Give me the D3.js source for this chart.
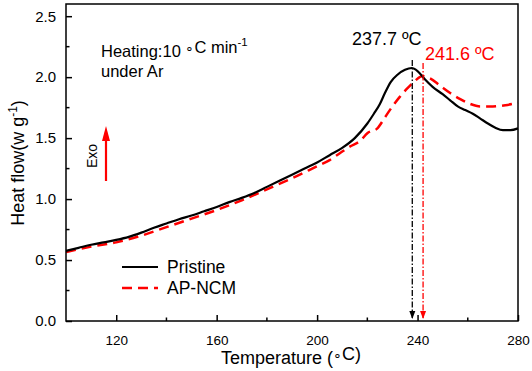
<!DOCTYPE html>
<html>
<head>
<meta charset="utf-8">
<script src="https://cdn.jsdelivr.net/npm/d3@7"></script>
<style>
  body { margin: 0; background: #fff; }
  svg { font-family: "Liberation Sans", Arial, sans-serif; }
</style>
</head>
<body>
<svg id="chart" width="532" height="371"></svg>
<script>
// DSC curves

const pristineT = [100, 105, 110, 115, 120, 125, 130, 135, 140, 145, 150, 155, 160, 165, 170, 175, 180, 185, 190, 195, 200, 205, 210, 215, 220, 222.6, 225, 227, 229.3, 232, 235, 237.7, 240, 243, 246, 250, 253, 256, 259, 262, 265, 268, 271, 274, 277, 280];
const pristineQ = [0.575, 0.60, 0.625, 0.645, 0.665, 0.69, 0.725, 0.765, 0.80, 0.835, 0.865, 0.90, 0.935, 0.975, 1.01, 1.05, 1.10, 1.15, 1.20, 1.25, 1.30, 1.36, 1.42, 1.50, 1.62, 1.70, 1.78, 1.87, 1.96, 2.02, 2.06, 2.075, 2.05, 1.98, 1.92, 1.86, 1.81, 1.76, 1.73, 1.70, 1.66, 1.62, 1.585, 1.565, 1.565, 1.58];

const apT = [100, 110, 120, 130, 140, 150, 160, 170, 180, 190, 200, 205, 209.3, 213, 217.3, 220, 224, 227, 230, 233, 236, 239, 242, 245, 249, 253, 257, 261, 265, 270, 275, 280];
const apQ = [0.565, 0.61, 0.645, 0.70, 0.77, 0.84, 0.91, 0.99, 1.08, 1.17, 1.27, 1.32, 1.38, 1.43, 1.48, 1.54, 1.58, 1.67, 1.76, 1.84, 1.91, 1.97, 2.01, 1.99, 1.93, 1.87, 1.82, 1.78, 1.76, 1.76, 1.77, 1.79];

const xTicks = [120, 160, 200, 240, 280];
const xMinor = [140, 180, 220, 260];
const yTicks = [0.0, 0.5, 1.0, 1.5, 2.0, 2.5];
const yMinor = [0.25, 0.75, 1.25, 1.75, 2.25];

const peakTemps = [237.9, 242.2];
const peakLabels = ['237.7 ºC', '241.6 ºC'];
const seriesNames = ['Pristine', 'AP-NCM'];

const svg = d3.select('#chart');
const margin = { left: 66, top: 4, right: 14, bottom: 50 };
const W = 532, H = 371;

const x = d3.scaleLinear().domain([100, 280]).range([margin.left, W - margin.right]);
const y = d3.scaleLinear().domain([0, 2.6]).range([H - margin.bottom, margin.top]);

const plot = svg.append('g');

// curves
const line = d3.line()
  .x(d => x(d[0]))
  .y(d => y(d[1]))
  .curve(d3.curveMonotoneX);

plot.append('path')
  .datum(d3.zip(apT, apQ))
  .attr('d', line)
  .attr('fill', 'none')
  .attr('stroke', '#ff0000')
  .attr('stroke-width', 2.5)
  .attr('stroke-dasharray', '10,6');

plot.append('path')
  .datum(d3.zip(pristineT, pristineQ))
  .attr('d', line)
  .attr('fill', 'none')
  .attr('stroke', '#000')
  .attr('stroke-width', 2.2);

// peak markers
const peakColors = ['#000', '#ff0000'];
const peakTop = [60, 63];
peakTemps.forEach((t, i) => {
  plot.append('line')
    .attr('x1', x(t)).attr('x2', x(t))
    .attr('y1', peakTop[i]).attr('y2', y(0) - 3)
    .attr('stroke', peakColors[i])
    .attr('stroke-width', 1.3)
    .attr('stroke-dasharray', '6,2,1.5,2');
  plot.append('path')
    .attr('d', `M${x(t) - 3},${y(0) - 10} L${x(t) + 3},${y(0) - 10} L${x(t)},${y(0) - 2} Z`)
    .attr('fill', peakColors[i]);
});

svg.append('text')
  .attr('x', 352).attr('y', 45)
  .attr('font-size', 18)
  .text(peakLabels[0]);

svg.append('text')
  .attr('x', 425).attr('y', 60)
  .attr('font-size', 18)
  .attr('fill', '#ff0000')
  .text(peakLabels[1]);

// axes
svg.append('rect')
  .attr('x', x(100)).attr('y', y(2.6))
  .attr('width', x(280) - x(100)).attr('height', y(0) - y(2.6))
  .attr('fill', 'none')
  .attr('stroke', '#000')
  .attr('stroke-width', 1.5);

const xAxis = svg.append('g')
  .attr('transform', `translate(0,${y(0)})`)
  .call(d3.axisBottom(x).tickValues(xTicks).tickSizeInner(-6).tickSizeOuter(0).tickPadding(14));
xAxis.select('.domain').remove();
xAxis.selectAll('text').attr('font-size', 13.5).attr('font-family', '"Liberation Sans", Arial, sans-serif');
xAxis.selectAll('line').attr('stroke-width', 1.5);
xAxis.selectAll('.minor').data(xMinor).enter().append('line')
  .attr('x1', d => x(d)).attr('x2', d => x(d))
  .attr('y1', 0).attr('y2', -3.5)
  .attr('stroke', '#000').attr('stroke-width', 1.5);

const yAxis = svg.append('g')
  .attr('transform', `translate(${x(100)},0)`)
  .call(d3.axisLeft(y).tickValues(yTicks).tickFormat(d3.format('.1f')).tickSizeInner(-6).tickSizeOuter(0).tickPadding(10));
yAxis.select('.domain').remove();
yAxis.selectAll('text').attr('font-size', 15).attr('font-family', '"Liberation Sans", Arial, sans-serif');
yAxis.selectAll('line').attr('stroke-width', 1.5);
yAxis.selectAll('.minor').data(yMinor).enter().append('line')
  .attr('x1', 0).attr('x2', 3.5)
  .attr('y1', d => y(d)).attr('y2', d => y(d))
  .attr('stroke', '#000').attr('stroke-width', 1.5);

// small ring used for the degree sign in the original
function ring(sel) {
  sel.append('tspan').attr('font-size', 14).attr('dy', -4).text('∘');
  sel.append('tspan').attr('dy', 4).text('');
}

// axis titles
const xTitle = svg.append('text')
  .attr('x', 291).attr('y', 364)
  .attr('text-anchor', 'middle')
  .attr('font-size', 18);
xTitle.append('tspan').text('Temperature (');
ring(xTitle);
xTitle.append('tspan').text('C)');

const yTitle = svg.append('text')
  .attr('transform', 'translate(24,163) rotate(-90)')
  .attr('text-anchor', 'middle')
  .attr('font-size', 18);
yTitle.append('tspan').text('Heat flow(w g');
yTitle.append('tspan').attr('dy', -7).attr('font-size', 12).text('-1');
yTitle.append('tspan').attr('dy', 7).text(')');

// condition note
const note = svg.append('text').attr('x', 101).attr('y', 57).attr('font-size', 16.5);
note.append('tspan').text('Heating:10 ');
ring(note);
note.append('tspan').text('C min');
note.append('tspan').attr('dy', -7).attr('font-size', 11.5).text('-1');
svg.append('text').attr('x', 101).attr('y', 77).attr('font-size', 16.5).text('under Ar');

// exo arrow
svg.append('line')
  .attr('x1', 106).attr('x2', 106)
  .attr('y1', 181).attr('y2', 138)
  .attr('stroke', '#ff0000').attr('stroke-width', 2.2);
svg.append('path')
  .attr('d', 'M102,141 L110,141 L106,126 Z')
  .attr('fill', '#ff0000');
svg.append('text')
  .attr('transform', 'translate(97,156) rotate(-90)')
  .attr('text-anchor', 'middle')
  .attr('font-size', 14)
  .text('Exo');

// legend
const legend = svg.append('g');
seriesNames.forEach((name, i) => {
  const ly = 267 + i * 21;
  legend.append('line')
    .attr('x1', 122).attr('x2', 158)
    .attr('y1', ly).attr('y2', ly)
    .attr('stroke', i === 0 ? '#000' : '#ff0000')
    .attr('stroke-width', i === 0 ? 2.2 : 2.5)
    .attr('stroke-dasharray', i === 0 ? null : '10,6');
  legend.append('text')
    .attr('x', 167).attr('y', ly + 6)
    .attr('font-size', 17.5)
    .text(name);
});
</script>
</body>
</html>
